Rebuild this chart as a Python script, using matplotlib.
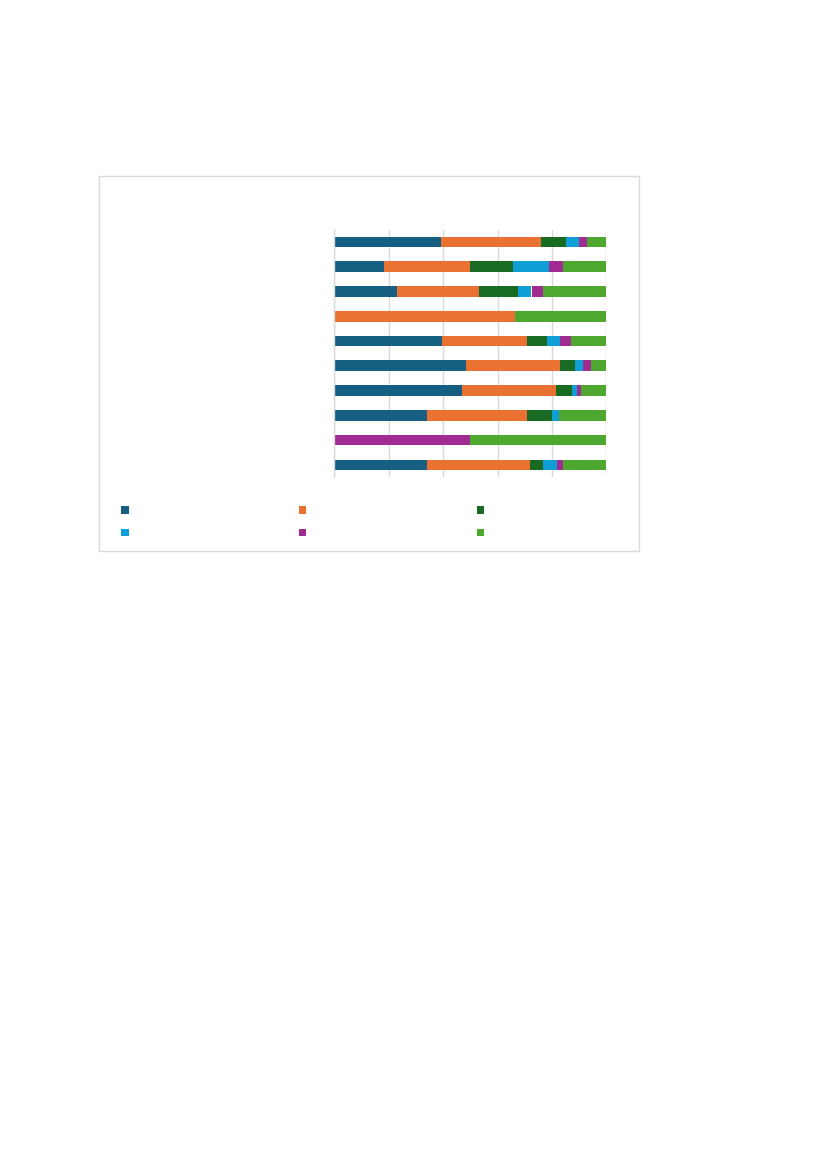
import matplotlib
matplotlib.use("Agg")
import matplotlib.pyplot as plt
from matplotlib.patches import Rectangle, Patch

# Categories (no visible labels in the reference), top to bottom
categories = ["", "", "", "", "", "", "", "", "", ""]
series_names = ["S1", "S2", "S3", "S4", "S5", "S6"]
s1 = [39.1, 18.2, 22.9, 0.0, 39.5, 48.3, 46.9, 34.0, 0.0, 34.0]
s2 = [36.8, 31.7, 30.2, 66.6, 31.2, 34.5, 34.5, 36.7, 0.0, 37.9]
s3 = [9.3, 15.8, 14.5, 0.0, 7.6, 5.6, 6.1, 9.3, 0.0, 4.8]
s4 = [4.7, 13.3, 4.9, 0.0, 4.8, 2.9, 1.7, 2.5, 0.0, 5.2]
s5 = [3.1, 5.2, 4.2, 0.0, 3.9, 2.9, 1.5, 0.0, 49.8, 2.3]
s6 = [7.0, 16.0, 23.3, 33.4, 13.0, 5.6, 9.3, 17.5, 50.2, 15.8]
colors = ["#156082", "#E97132", "#196B24", "#0F9ED5", "#A02B93", "#4EA72E"]

W, H = 827, 1169
fig = plt.figure(figsize=(W / 100, H / 100), dpi=100)
fig.patch.set_facecolor("white")

# chart frame
fig.patches.append(Rectangle((99 / W, 1 - 551 / H), (638.5 - 99) / W, (551 - 176) / H,
                             transform=fig.transFigure, fill=False,
                             edgecolor="#d9d9d9", linewidth=1.0))

left, right, top, bottom = 334.3, 606.3, 229.5, 477.3
ax = fig.add_axes([left / W, 1 - bottom / H, (right - left) / W, (bottom - top) / H])

n = len(categories)
ypos = list(range(n))
data = [s1, s2, s3, s4, s5, s6]
cum = [0.0] * n
for vals, col, name in zip(data, colors, series_names):
    ax.barh(ypos, vals, left=cum, height=0.43, color=col, label=name, zorder=3)
    cum = [c + v for c, v in zip(cum, vals)]

ax.set_xlim(0, 100)
ax.set_ylim(n - 0.5, -0.5)
ax.set_xticks([0, 20, 40, 60, 80, 100])
ax.set_xticklabels([])
ax.set_yticks(ypos)
ax.set_yticklabels(categories)
ax.tick_params(length=0)
ax.grid(axis="x", color="#d9d9d9", linewidth=1.0, zorder=0)
for sp in ["top", "right", "bottom"]:
    ax.spines[sp].set_visible(False)
ax.spines["left"].set_color("#d9d9d9")
ax.spines["left"].set_linewidth(1.0)
ax.spines["left"].set_zorder(4)

# legend markers (labels are blank in the reference)
handles = [Patch(facecolor=c, edgecolor=c) for c in colors]
mx = [125, 302, 480]
my = [510, 532]
for i, c in enumerate(colors):
    x = mx[i % 3]
    y = my[i // 3]
    fig.patches.append(Rectangle(((x - 3.5) / W, 1 - (y + 3.5) / H), 7 / W, 7 / H,
                                 transform=fig.transFigure, facecolor=c,
                                 edgecolor="none"))

fig.savefig("out.png", dpi=100, facecolor="white")
